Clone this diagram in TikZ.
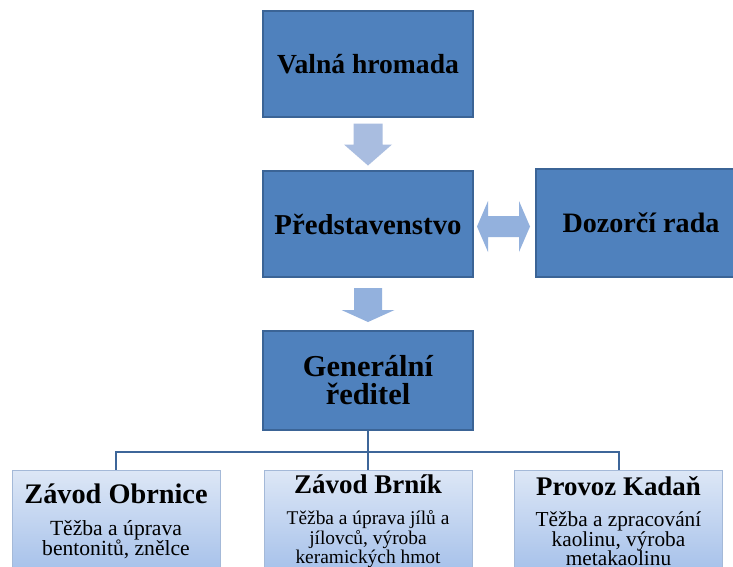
\documentclass[tikz,border=0pt]{standalone}
\usepackage{fontspec}
\setmainfont{Liberation Serif}
\usetikzlibrary{calc}
\definecolor{boxblue}{HTML}{4F81BD}
\definecolor{boxedge}{HTML}{3B6496}
\definecolor{linkblue}{HTML}{3D6699}
\definecolor{arrowlight}{HTML}{A9BDE0}
\definecolor{arrowmid}{HTML}{93B1DD}
\definecolor{unittop}{HTML}{DDE7F6}
\definecolor{unitbot}{HTML}{A6C1EA}
\definecolor{unitedge}{HTML}{A4B9D8}
\newcommand{\boxfont}[1]{\fontsize{#1}{28}\selectfont\bfseries}
\newcommand{\subfont}[1]{\fontsize{#1}{19.3}\selectfont\lineskiplimit=-50pt}

\begin{document}
\begin{tikzpicture}[x=1pt,y=-1pt,
  topbox/.style={draw=boxedge,line width=1.3pt,fill=boxblue,minimum width=210pt,minimum height=#1,inner sep=2pt,align=center},
  topbox/.default=106pt,
  unitbox/.style={draw=unitedge,line width=0.8pt,top color=unittop,bottom color=unitbot,minimum width=208pt,minimum height=102pt,inner sep=2pt,align=center},
  orgline/.style={draw=linkblue,line width=2pt}]
\useasboundingbox (0,0) rectangle (733,566);
\clip (0,0) rectangle (733,566);
\fill[white] (0,0) rectangle (733,566);

\node[topbox,font=\boxfont{27.6}] (valna) at (368,64) {Valná hromada};
\node[topbox,font=\boxfont{28.8}] (pred) at (368,224) {Představenstvo};
\node[topbox=108pt,font=\boxfont{28.1}] (dozor) at (641,223) {Dozorčí rada};
\node[topbox=99pt,font=\boxfont{30.4}] (gen) at (368,380.5) {Generální\\ředitel};

\node[unitbox,font=\subfont{21.6}] (obrnice) at (116,521) {{\boxfont{28.3}Závod Obrnice}\\[13.5pt]Těžba a úprava\\bentonitů, znělce};
\node[unitbox,font=\subfont{19.4}] (brnik) at (368,521) {{\boxfont{27}Závod Brník}\\[12.5pt]Těžba a úprava jílů a\\jílovců, výroba\\keramických hmot};
\node[unitbox,font=\subfont{21.3}] (kadan) at (618.5,521) {{\boxfont{26.9}Provoz Kadaň}\\[12.5pt]Těžba a zpracování\\kaolinu, výroba\\metakaolinu};

% block arrows
\coordinate (m1) at ($(valna.south)!0.5!(pred.north)$);
\coordinate (m2) at ($(pred.south)!0.5!(gen.north)$);
\coordinate (m3) at ($(pred.east)!0.5!(dozor.west)$);
\fill[arrowlight] (m1) ++(-14.5,-20.5) -- ++(29,0) -- ++(0,21) -- ++(9.5,0) -- ++(-24,21) -- ++(-24,-21) -- ++(9.5,0) -- cycle;
\fill[arrowmid] (m2) ++(-14,-16) -- ++(28,0) -- ++(0,22) -- ++(12.5,0) -- ++(-26.5,12) -- ++(-26.5,-12) -- ++(12.5,0) -- cycle;
\fill[arrowmid] (m3) ++(-27.5,3) -- ++(11,-25.5) -- ++(0,15) -- ++(31,0) -- ++(0,-15) -- ++(11,25.5) -- ++(-11,25.5) -- ++(0,-15) -- ++(-31,0) -- ++(0,15) -- cycle;

% tree lines
\coordinate (hub) at ($(gen.south)+(0,21)$);
\draw[orgline] (gen.south) -- (hub);
\foreach \u in {obrnice,brnik,kadan} {
  \draw[orgline] (hub) -| (\u.north);
}
\end{tikzpicture}
\end{document}
